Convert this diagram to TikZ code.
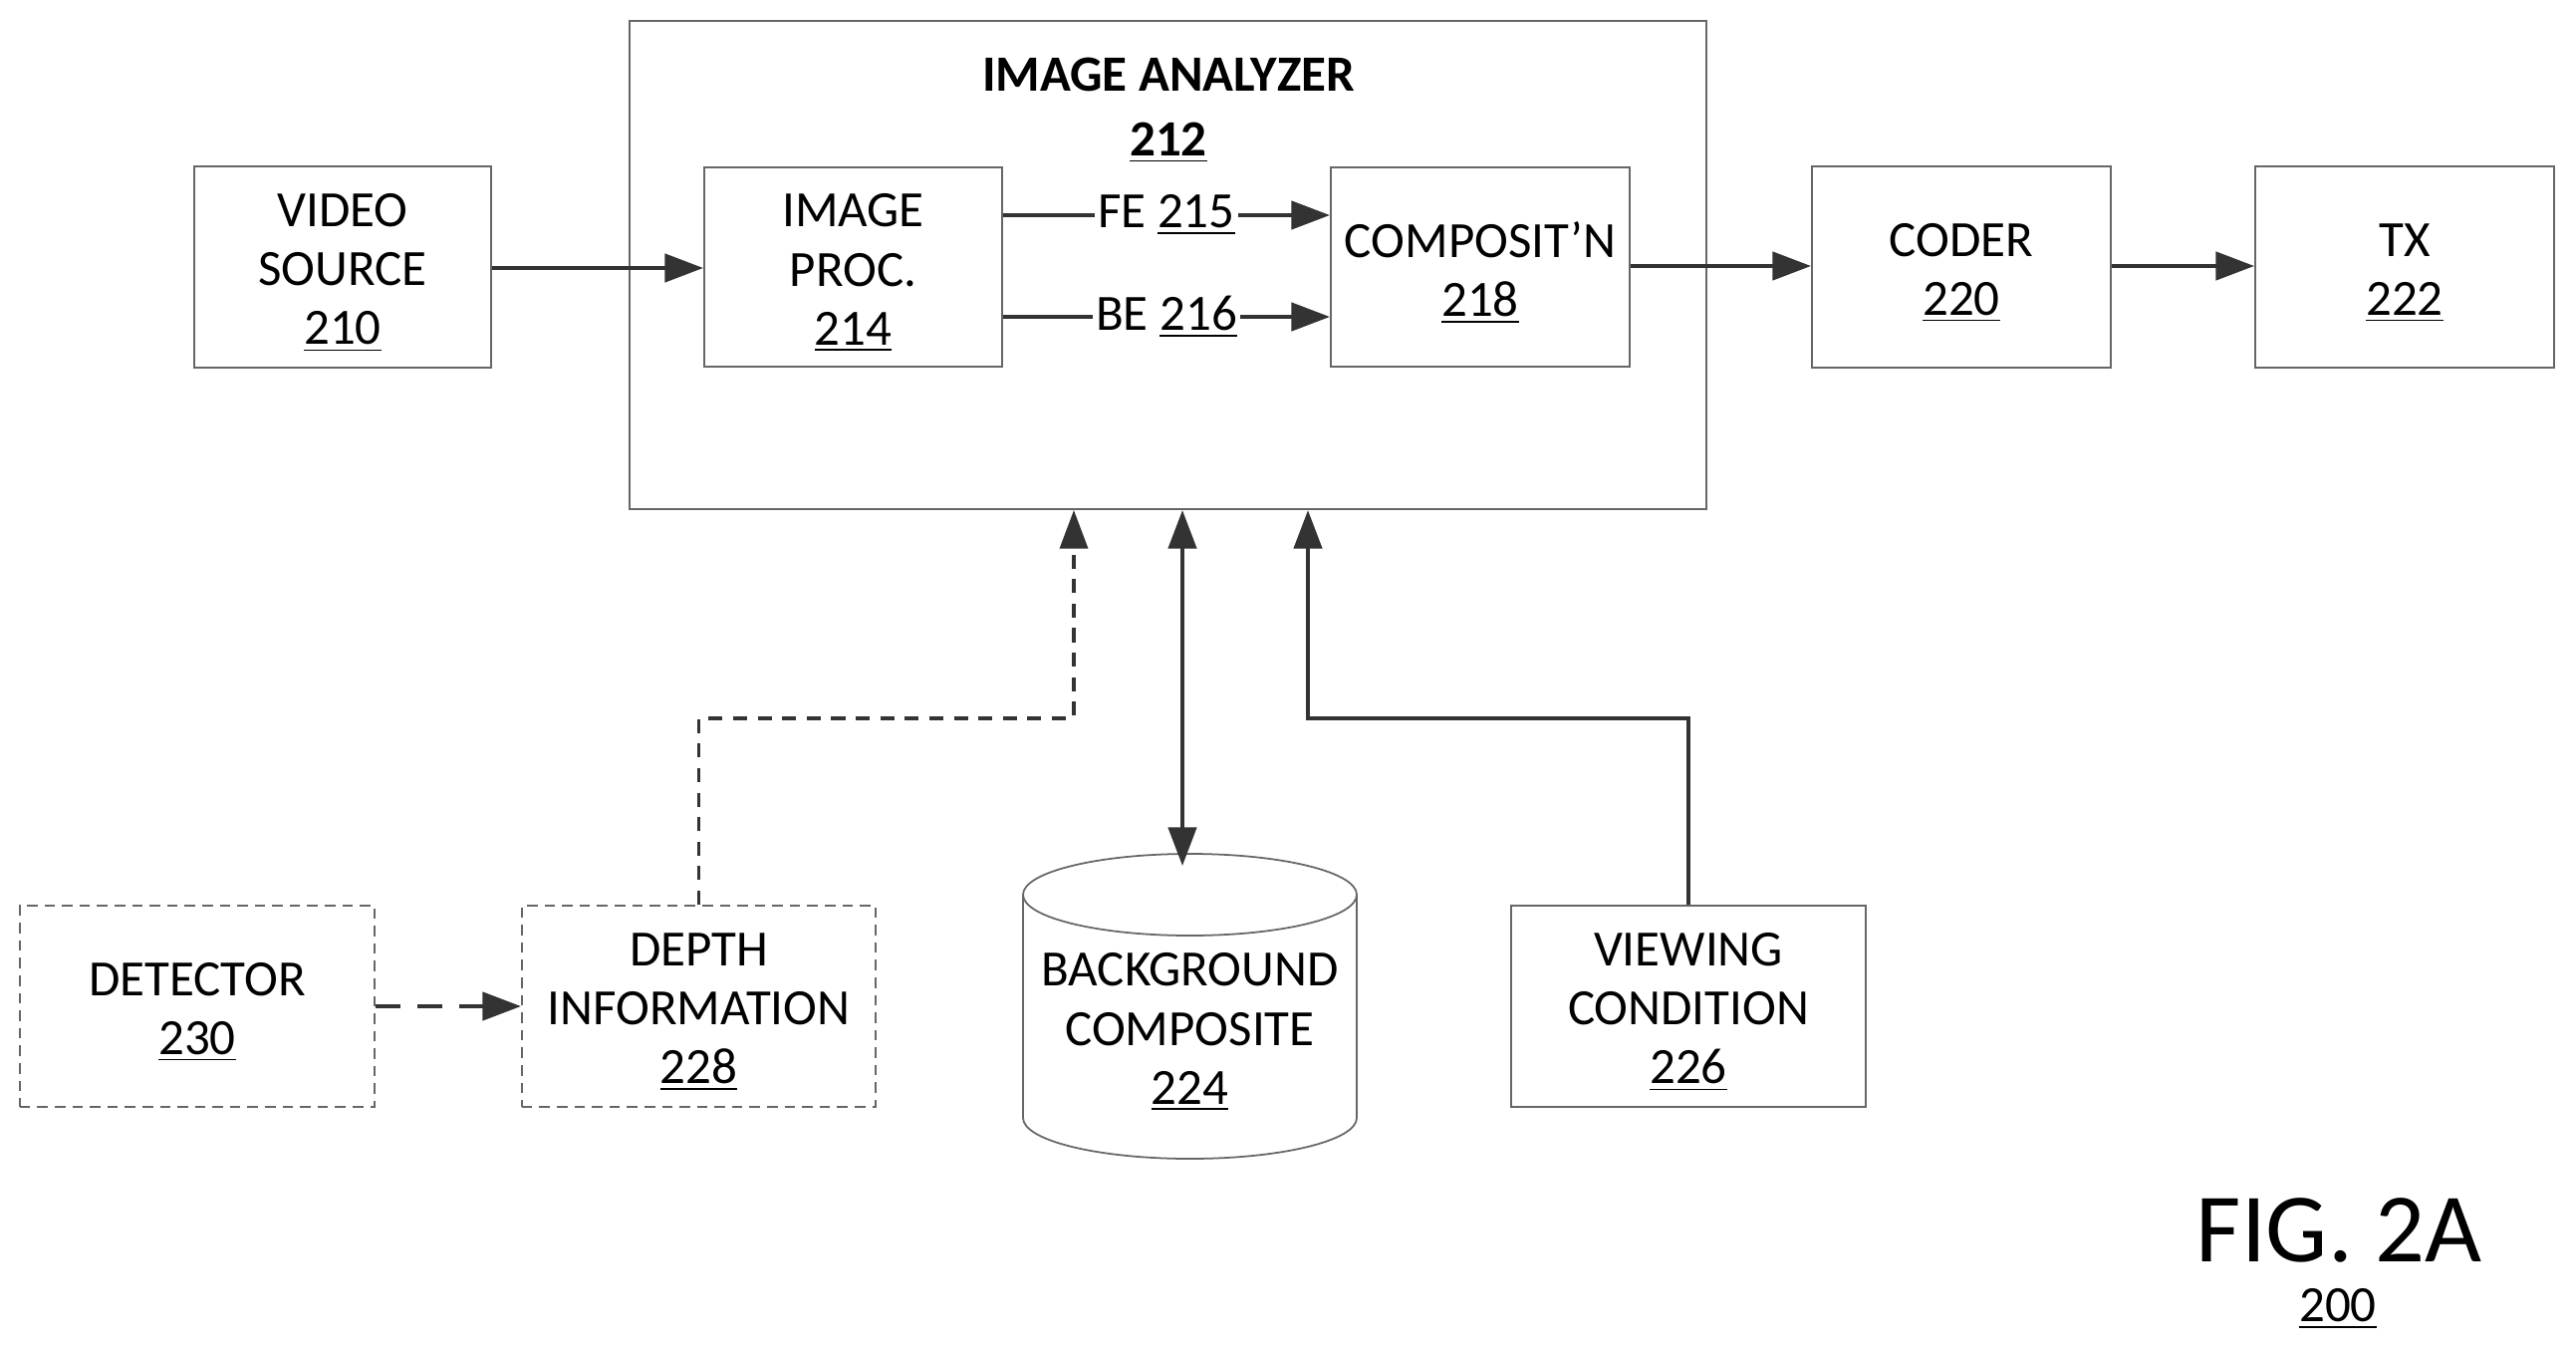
\documentclass[tikz,border=0pt]{standalone}
\usepackage{fontspec}
\setmainfont{Carlito}
\usetikzlibrary{arrows.meta}
\begin{document}
\begin{tikzpicture}[x=0.01cm,y=-0.01cm,
 box/.style={draw=black!60,line width=0.5pt,inner sep=0pt},
 dbox/.style={box,dashed,dash pattern=on 3pt off 2pt},
 txt/.style={font=\fontsize{14.5}{16.8}\selectfont,align=center,yshift=-0.06cm},
 arr/.style={line width=1.2pt,draw=black!80,-{Triangle[length=11pt,width=8pt]}},
 lbl/.style={font=\fontsize{14.5}{17.4}\selectfont,fill=white,inner sep=1pt}]
\useasboundingbox (0,0) rectangle (2586,1355);
\node[box,minimum width=10.81cm,minimum height=4.90cm] (ia) at (1172.5,266) {};
\node[txt,font=\bfseries\fontsize{14.5}{17.4}\selectfont] (iat) at (1173,105) {IMAGE ANALYZER\\[1pt]\underline{212}};
\node[box,minimum width=2.98cm,minimum height=2.02cm] (vs) at (344,268) {};
\node[txt] at (vs) {VIDEO\\SOURCE\\\underline{210}};
\node[box,minimum width=2.99cm,minimum height=2.00cm] (ip) at (856.5,268) {};
\node[txt] at (ip) {IMAGE\\PROC.\\\underline{214}};
\node[box,minimum width=3.00cm,minimum height=2.00cm] (co) at (1486,268) {};
\node[txt] at (co) {COMPOSIT'N\\\underline{218}};
\node[box,minimum width=3.00cm,minimum height=2.02cm] (cd) at (1969,268) {};
\node[txt] at (cd) {CODER\\\underline{220}};
\node[box,minimum width=3.00cm,minimum height=2.02cm] (tx) at (2414,268) {};
\node[txt] at (tx) {TX\\\underline{222}};
\node[dbox,minimum width=3.56cm,minimum height=2.02cm] (de) at (198,1010) {};
\node[txt] at (de) {DETECTOR\\\underline{230}};
\node[dbox,minimum width=3.55cm,minimum height=2.02cm] (dp) at (701.5,1010) {};
\node[txt] at (dp) {DEPTH\\INFORMATION\\\underline{228}};
\node[box,minimum width=3.56cm,minimum height=2.02cm] (vc) at (1695,1010) {};
\node[txt] at (vc) {VIEWING\\CONDITION\\\underline{226}};
% cylinder
\draw[draw=black!60,line width=0.5pt] (1027,898) -- (1027,1122) arc[start angle=180,end angle=0,x radius=167.5,y radius=41] -- (1362,898);
\draw[draw=black!60,line width=0.5pt] (1194.5,898) ellipse[x radius=167.5,y radius=41];
\node[txt] (bg) at (1194.5,1030) {BACKGROUND\\COMPOSITE\\\underline{224}};
\node[font=\fontsize{28}{30}\selectfont] (fig) at (2348,1235) {FIG. 2A};
\node[font=\fontsize{14.5}{17}\selectfont] (num) at (2347,1314) {\underline{200}};
\draw[arr] (vs.east|-0,269) -- (ip.west|-0,269);
\draw[arr] (ip.east|-0,216) -- node[lbl]{FE \underline{215}} (co.west|-0,216);
\draw[arr] (ip.east|-0,318) -- node[lbl]{BE \underline{216}} (co.west|-0,318);
\draw[arr] (co.east|-0,267) -- (cd.west|-0,267);
\draw[arr] (cd.east|-0,267) -- (tx.west|-0,267);
\draw[arr,dashed,dash pattern=on 7pt off 5pt] (de.east) -- (dp.west);
\draw[arr,dashed,line width=0.9pt,dash pattern=on 4pt off 3pt] (dp.north) |- (1078,721) -- (ia.south-|1078,0);
\draw[arr,{Triangle[length=11pt,width=8pt]}-{Triangle[length=11pt,width=8pt]}] (ia.south-|1187,0) -- (1187,869);
\draw[arr] (vc.north) |- (1313,721) -- (ia.south-|1313,0);
\end{tikzpicture}
\end{document}
